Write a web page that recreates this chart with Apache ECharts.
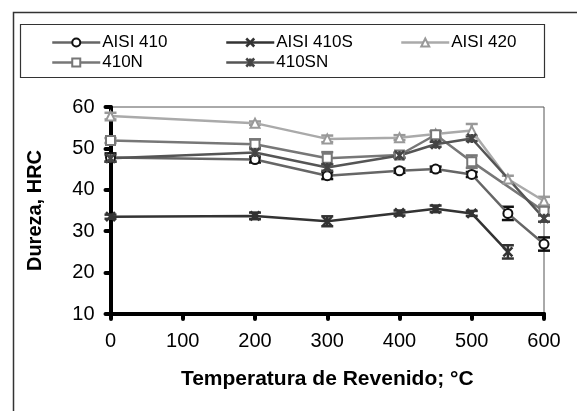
<!DOCTYPE html>
<html lang="pt">

<head>
    <meta charset="UTF-8">
    <title>Dureza x Temperatura de Revenido</title>
    <script src="https://cdn.jsdelivr.net/npm/echarts@6/dist/echarts.min.js"></script>
    <style>
        body {
            margin: 0;
            background: #fff;
        }

        #chart {
            width: 577px;
            height: 411px;
        }
    </style>
</head>

<body>
    <div id="chart"></div>

    <script>
        // temperaturas (°C) e durezas (HRC)
        var temps410 = [0, 200, 300, 400, 450, 500, 550, 600];
        var h410 = [47.8, 47.3, 43.4, 44.6, 45.0, 43.7, 34.3, 26.9];
        var e410 = [1.0, 0.7, 0.8, 0.5, 0.6, 0.6, 1.6, 1.6];

        var temps410S = [0, 200, 300, 400, 450, 500, 550];
        var h410S = [33.5, 33.7, 32.4, 34.4, 35.4, 34.3, 25.0];
        var e410S = [0.5, 0.8, 1.2, 0.6, 0.8, 0.6, 1.6];

        var temps420 = [0, 200, 300, 400, 450, 500, 550, 600];
        var h420 = [57.8, 56.1, 52.3, 52.6, 53.5, 54.3, 42.6, 37.3];
        var e420 = [0.8, 0.4, 0.8, 0.6, 0.6, 1.6, 0.8, 1.0];

        var temps410N = [0, 200, 300, 400, 450, 500, 600];
        var h410N = [51.9, 51.0, 47.6, 48.4, 53.3, 46.8, 34.8];
        var e410N = [0.6, 1.2, 1.5, 0.6, 0.8, 1.5, 1.0];

        var temps410SN = [0, 200, 300, 400, 450, 500, 600];
        var h410SN = [47.6, 49.0, 45.4, 48.3, 51.0, 52.4, 33.1];
        var e410SN = [0.8, 1.2, 0.8, 0.6, 0.6, 0.6, 0.8];

        var xTicks = [0, 100, 200, 300, 400, 500, 600];
        var yTicks = [10, 20, 30, 40, 50, 60];

        var xSymbol = 'path://M0,0L10,10M10,0L0,10';
        var starSymbol = 'path://M0,0L10,10M10,0L0,10M5,0L5,10';

        var seriesDefs = [
            { name: 'AISI 410', t: temps410, h: h410, e: e410, line: '#666', mark: '#111', symbol: 'emptyCircle', size: 9 },
            { name: 'AISI 410S', t: temps410S, h: h410S, e: e410S, line: '#333', mark: '#333', symbol: xSymbol, size: 9 },
            { name: 'AISI 420', t: temps420, h: h420, e: e420, line: '#aaa', mark: '#999', symbol: 'emptyTriangle', size: 9 },
            { name: '410N', t: temps410N, h: h410N, e: e410N, line: '#777', mark: '#777', symbol: 'emptyRect', size: 9 },
            { name: '410SN', t: temps410SN, h: h410SN, e: e410SN, line: '#555', mark: '#444', symbol: starSymbol, size: 9 }
        ];

        function pairs(t, h) {
            var out = [];
            for (var i = 0; i < t.length; i++) {
                out.push([t[i], h[i]]);
            }
            return out;
        }

        function triples(t, h, e) {
            var out = [];
            for (var i = 0; i < t.length; i++) {
                out.push([t[i], h[i], e[i]]);
            }
            return out;
        }

        // barras de erro com tracinhos nas pontas
        function errorBar(color) {
            return function (params, api) {
                var x = api.value(0), y = api.value(1), e = api.value(2);
                var top = api.coord([x, y + e]);
                var bot = api.coord([x, y - e]);
                var w = 6;
                var st = { stroke: color, lineWidth: 2.5 };
                return {
                    type: 'group',
                    children: [
                        { type: 'line', shape: { x1: top[0], y1: top[1], x2: bot[0], y2: bot[1] }, style: st },
                        { type: 'line', shape: { x1: top[0] - w, y1: top[1], x2: top[0] + w, y2: top[1] }, style: st },
                        { type: 'line', shape: { x1: bot[0] - w, y1: bot[1], x2: bot[0] + w, y2: bot[1] }, style: st }
                    ]
                };
            };
        }

        var series = [];
        for (var i = 0; i < seriesDefs.length; i++) {
            var d = seriesDefs[i];
            series.push({
                name: 'err ' + d.name,
                type: 'custom',
                renderItem: errorBar(d.mark),
                data: triples(d.t, d.h, d.e),
                encode: { x: 0, y: 1 },
                z: 2,
                silent: true
            });
        }
        for (var i = 0; i < seriesDefs.length; i++) {
            var d = seriesDefs[i];
            series.push({
                name: d.name,
                type: 'line',
                data: pairs(d.t, d.h),
                symbol: d.symbol,
                symbolSize: d.size,
                showAllSymbol: true,
                lineStyle: { color: d.line, width: 2.5 },
                itemStyle: { color: d.mark, borderColor: d.mark, borderWidth: 2.5 },
                z: 3,
                animation: false
            });
        }

        var legendBase = {
            orient: 'vertical',
            top: 29,
            itemWidth: 48,
            itemHeight: 10,
            itemGap: 3,
            itemStyle: { borderWidth: 2.5 },
            lineStyle: { width: 2.5 },
            textStyle: { fontFamily: 'Liberation Sans', fontSize: 17, color: '#000', padding: [0, 0, 0, -3] },
            selectedMode: false
        };

        var myChart = echarts.init(document.getElementById('chart'));
        var option = {
            animation: false,
            backgroundColor: '#fff',
            graphic: [
                { type: 'rect', shape: { x: 13.5, y: 12.5, width: 700, height: 500 }, style: { fill: 'none', stroke: '#333', lineWidth: 1.5 }, silent: true },
                { type: 'rect', shape: { x: 20.5, y: 24.5, width: 524, height: 53 }, style: { fill: 'none', stroke: '#333', lineWidth: 1.2 }, silent: true }
            ],
            legend: [
                Object.assign({}, legendBase, { left: 46, data: ['AISI 410', '410N'] }),
                Object.assign({}, legendBase, { left: 220, data: ['AISI 410S', '410SN'] }),
                Object.assign({}, legendBase, { left: 395, data: ['AISI 420'] })
            ],
            grid: {
                left: 110.5,
                right: 33,
                top: 107,
                bottom: 97,
                show: true,
                borderColor: '#555',
                borderWidth: 1,
                backgroundColor: '#fff'
            },
            xAxis: {
                type: 'value',
                min: xTicks[0],
                max: xTicks[xTicks.length - 1],
                interval: 100,
                name: 'Temperatura de Revenido; °C',
                nameLocation: 'middle',
                nameGap: 55,
                nameTextStyle: { fontFamily: 'Liberation Sans', fontSize: 21, fontWeight: 'bold', color: '#000' },
                axisLine: { show: true, lineStyle: { color: '#000', width: 4 } },
                axisTick: { show: true, length: 5, lineStyle: { color: '#000', width: 4, cap: 'round' } },
                axisLabel: { fontFamily: 'Liberation Sans', fontSize: 20, color: '#000', margin: 17 },
                splitLine: { show: false }
            },
            yAxis: {
                type: 'value',
                min: yTicks[0],
                max: yTicks[yTicks.length - 1],
                interval: 10,
                name: 'Dureza, HRC',
                nameLocation: 'middle',
                nameGap: 65,
                nameTextStyle: { fontFamily: 'Liberation Sans', fontSize: 20, fontWeight: 'bold', color: '#000' },
                axisLine: { show: true, lineStyle: { color: '#000', width: 4 } },
                axisTick: { show: true, length: 5, lineStyle: { color: '#000', width: 4, cap: 'round' } },
                axisLabel: { fontFamily: 'Liberation Sans', fontSize: 20, color: '#000', margin: 16 },
                splitLine: { show: false }
            },
            series: series
        };
        myChart.setOption(option);
    </script>
</body>

</html>
